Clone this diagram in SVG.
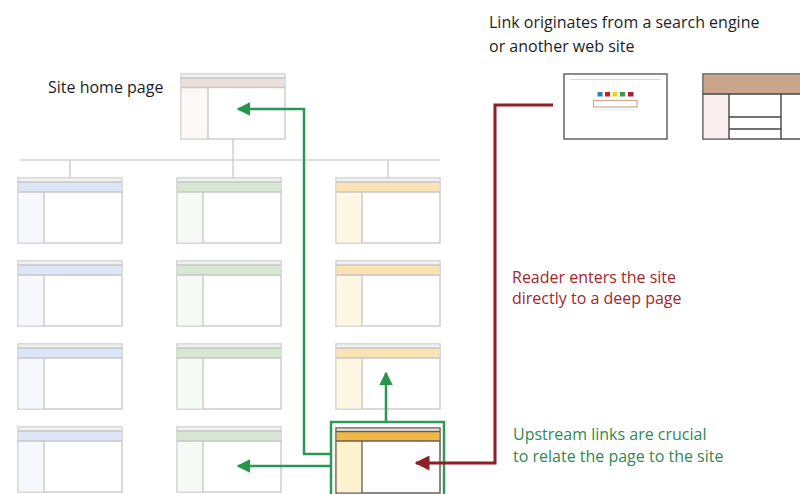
<svg xmlns="http://www.w3.org/2000/svg" width="800" height="494" viewBox="0 0 800 494">
<style>
.frame{fill:#fff;stroke:#c6c6c6;stroke-width:1.3}
.top{fill:#f1f1f1}
.div{stroke:#c6c6c6;stroke-width:1.3;fill:none}
.blue .hdr{fill:#dce6f7}.blue .side{fill:#f6f8fd}
.green .hdr{fill:#d6e8d2}.green .side{fill:#f6faf5}
.yel .hdr{fill:#fbe2b4}.yel .side{fill:#fdf7e4}
.home .hdr{fill:#ece0d8}.home .side{fill:#fcf8f6}
.tree{stroke:#d3d3d3;stroke-width:1.6;fill:none}
.gline{stroke:#2a9752;stroke-width:2.5;fill:none}
.rline{stroke:#8e1f24;stroke-width:3;fill:none}
text{font-family:"Open Sans","Noto Sans",sans-serif;font-size:16px}
.blk{fill:#1e1e1e}
.red{fill:#a3262b}
.grn{fill:#2f8a50}
</style>
<defs>
<marker id="ga" viewBox="0 0 10 10" refX="9" refY="5" markerWidth="5.5" markerHeight="5.5" orient="auto" markerUnits="strokeWidth"><path d="M0,0 L10,5 L0,10 Z" fill="#24974c"/></marker>
<marker id="ra" viewBox="0 0 10 10" refX="9" refY="5" markerWidth="5" markerHeight="5" orient="auto" markerUnits="strokeWidth"><path d="M0,0 L10,5 L0,10 Z" fill="#8e1f24"/></marker>
</defs>

<!-- tree lines -->
<g id="tree">
<path class="tree" d="M233,139 V160 M20,160 H440 M70,160 V178 M233,160 V178 M388,160 V178"/>
</g>

<g id="home" class="home">
<rect class="frame" x="181" y="74" width="104" height="65"/>
<rect class="top" x="181.6" y="74.6" width="102.8" height="3.4"/>
<rect class="hdr" x="181.6" y="78" width="102.8" height="9.5"/>
<rect class="side" x="181.6" y="87.5" width="26.4" height="50.8"/>
<path class="div" d="M181,78 H285 M181,87.5 H285 M208,87.5 V139"/>
</g>

<!-- column 1 -->
<g id="p11" class="blue"><rect class="frame" x="18" y="178" width="104" height="65"/><rect class="top" x="18.6" y="178.6" width="102.8" height="3.4"/><rect class="hdr" x="18.6" y="182" width="102.8" height="10"/><rect class="side" x="18.6" y="192" width="25.4" height="50.4"/><path class="div" d="M18,182 H122 M18,192 H122 M44,192 V243"/></g>
<g id="p12" class="blue"><rect class="frame" x="18" y="261" width="104" height="65"/><rect class="top" x="18.6" y="261.6" width="102.8" height="3.4"/><rect class="hdr" x="18.6" y="265" width="102.8" height="10"/><rect class="side" x="18.6" y="275" width="25.4" height="50.4"/><path class="div" d="M18,265 H122 M18,275 H122 M44,275 V326"/></g>
<g id="p13" class="blue"><rect class="frame" x="18" y="344" width="104" height="65"/><rect class="top" x="18.6" y="344.6" width="102.8" height="3.4"/><rect class="hdr" x="18.6" y="348" width="102.8" height="10"/><rect class="side" x="18.6" y="358" width="25.4" height="50.4"/><path class="div" d="M18,348 H122 M18,358 H122 M44,358 V409"/></g>
<g id="p14" class="blue"><rect class="frame" x="18" y="427" width="104" height="65"/><rect class="top" x="18.6" y="427.6" width="102.8" height="3.4"/><rect class="hdr" x="18.6" y="431" width="102.8" height="10"/><rect class="side" x="18.6" y="441" width="25.4" height="50.4"/><path class="div" d="M18,431 H122 M18,441 H122 M44,441 V492"/></g>

<!-- column 2 -->
<g id="p21" class="green"><rect class="frame" x="177" y="178" width="104" height="65"/><rect class="top" x="177.6" y="178.6" width="102.8" height="3.4"/><rect class="hdr" x="177.6" y="182" width="102.8" height="10"/><rect class="side" x="177.6" y="192" width="25.4" height="50.4"/><path class="div" d="M177,182 H281 M177,192 H281 M203,192 V243"/></g>
<g id="p22" class="green"><rect class="frame" x="177" y="261" width="104" height="65"/><rect class="top" x="177.6" y="261.6" width="102.8" height="3.4"/><rect class="hdr" x="177.6" y="265" width="102.8" height="10"/><rect class="side" x="177.6" y="275" width="25.4" height="50.4"/><path class="div" d="M177,265 H281 M177,275 H281 M203,275 V326"/></g>
<g id="p23" class="green"><rect class="frame" x="177" y="344" width="104" height="65"/><rect class="top" x="177.6" y="344.6" width="102.8" height="3.4"/><rect class="hdr" x="177.6" y="348" width="102.8" height="10"/><rect class="side" x="177.6" y="358" width="25.4" height="50.4"/><path class="div" d="M177,348 H281 M177,358 H281 M203,358 V409"/></g>
<g id="p24" class="green"><rect class="frame" x="177" y="427" width="104" height="65"/><rect class="top" x="177.6" y="427.6" width="102.8" height="3.4"/><rect class="hdr" x="177.6" y="431" width="102.8" height="10"/><rect class="side" x="177.6" y="441" width="25.4" height="50.4"/><path class="div" d="M177,431 H281 M177,441 H281 M203,441 V492"/></g>

<!-- column 3 -->
<g id="p31" class="yel"><rect class="frame" x="336" y="178" width="104" height="65"/><rect class="top" x="336.6" y="178.6" width="102.8" height="3.4"/><rect class="hdr" x="336.6" y="182" width="102.8" height="10"/><rect class="side" x="336.6" y="192" width="25.4" height="50.4"/><path class="div" d="M336,182 H440 M336,192 H440 M362,192 V243"/></g>
<g id="p32" class="yel"><rect class="frame" x="336" y="261" width="104" height="65"/><rect class="top" x="336.6" y="261.6" width="102.8" height="3.4"/><rect class="hdr" x="336.6" y="265" width="102.8" height="10"/><rect class="side" x="336.6" y="275" width="25.4" height="50.4"/><path class="div" d="M336,265 H440 M336,275 H440 M362,275 V326"/></g>
<g id="p33" class="yel"><rect class="frame" x="336" y="344" width="104" height="65"/><rect class="top" x="336.6" y="344.6" width="102.8" height="3.4"/><rect class="hdr" x="336.6" y="348" width="102.8" height="10"/><rect class="side" x="336.6" y="358" width="25.4" height="50.4"/><path class="div" d="M336,348 H440 M336,358 H440 M362,358 V409"/></g>

<!-- deep page (highlighted) -->
<g id="deep">
<rect x="331" y="422" width="113" height="82" fill="none" stroke="#2f9a57" stroke-width="2.5"/>
<rect x="336" y="428" width="104" height="65" fill="#fff" stroke="#6b5d52" stroke-width="1.5"/>
<rect x="336.8" y="428.8" width="102.4" height="2.6" fill="#e8e8e8"/>
<rect x="336.8" y="431.5" width="102.4" height="9.5" fill="#f1b845"/>
<rect x="336.8" y="441" width="25.2" height="51.3" fill="#fcf2cd"/>
<path d="M336,431.5 H440 M336,441 H440 M362,441 V493" stroke="#6b5d52" stroke-width="1.3" fill="none"/>
</g>

<!-- search engine page -->
<g id="search">
<rect x="564" y="74" width="103" height="65" fill="#fff" stroke="#5a5a5a" stroke-width="1.4"/>
<path d="M570,79.5 H661" stroke="#d8d8d8" stroke-width="1.2"/>
<rect x="597.5" y="92" width="5" height="4.5" fill="#2f7fc1"/>
<rect x="605" y="92" width="5" height="4.5" fill="#c4202a"/>
<rect x="612.5" y="92" width="5" height="4.5" fill="#e9d21e"/>
<rect x="620" y="92" width="5" height="4.5" fill="#3a9a4a"/>
<rect x="628" y="92" width="5.5" height="4.5" fill="#b3193a"/>
<rect x="593.5" y="100.5" width="43.5" height="6.5" fill="#fff" stroke="#c9a88c" stroke-width="1.2"/>
<path d="M594,110 H636" stroke="#e3eef3" stroke-width="1"/>
</g>

<!-- other web site -->
<g id="website">
<rect x="703" y="74" width="110" height="65" fill="#fff" stroke="#444" stroke-width="1.4"/>
<rect x="703.7" y="74.7" width="110" height="19.3" fill="#c9a58c"/>
<rect x="703.7" y="94" width="25" height="44.3" fill="#fbeeee"/>
<path d="M703,94 H800 M729,94 V139 M781,94 V139 M729,117 H781 M729,129 H781" stroke="#444" stroke-width="1.4" fill="none"/>
</g>

<!-- connectors -->
<g id="connectors">
<path class="gline" d="M331,454 H304 V109 H238" marker-end="url(#ga)"/>
<path class="gline" d="M331,466 H238" marker-end="url(#ga)"/>
<path class="gline" d="M386,422 V373" marker-end="url(#ga)"/>
<path class="rline" d="M553,105 H495 V463 H416" marker-end="url(#ra)"/>
</g>

<!-- labels -->
<g id="labels">
<text class="blk" x="48" y="93">Site home page</text>
<text class="blk" x="489" y="28">Link originates from a search engine</text>
<text class="blk" x="489" y="52">or another web site</text>
<text class="red" x="512" y="283">Reader enters the site</text>
<text class="red" x="512" y="304">directly to a deep page</text>
<text class="grn" x="513" y="440">Upstream links are crucial</text>
<text class="grn" x="513" y="462">to relate the page to the site</text>
</g>
</svg>
